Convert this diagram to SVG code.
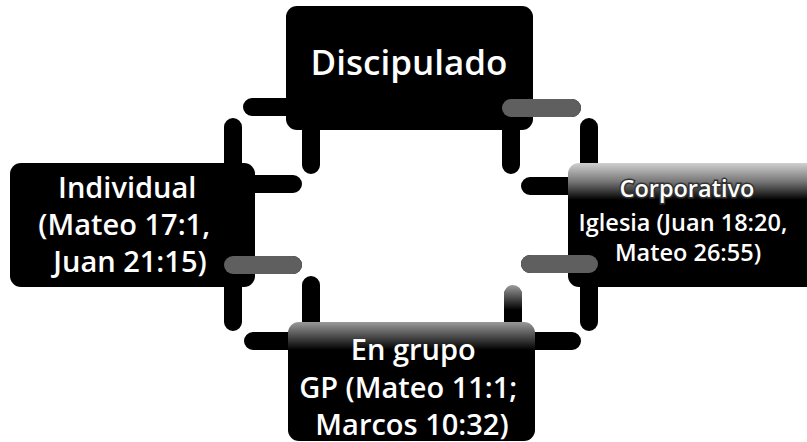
<svg xmlns="http://www.w3.org/2000/svg" width="807" height="442" viewBox="0 0 807 442">
  <defs>
    <linearGradient id="gRight" gradientUnits="userSpaceOnUse" x1="0" y1="163" x2="0" y2="200">
      <stop offset="0" stop-color="#d0d0d0"/>
      <stop offset="0.5" stop-color="#777"/>
      <stop offset="1" stop-color="#000"/>
    </linearGradient>
    <linearGradient id="gBottom" gradientUnits="userSpaceOnUse" x1="0" y1="322" x2="0" y2="350">
      <stop offset="0" stop-color="#9a9a9a"/>
      <stop offset="1" stop-color="#000"/>
    </linearGradient>
    <linearGradient id="gVert" gradientUnits="userSpaceOnUse" x1="0" y1="280" x2="0" y2="310">
      <stop offset="0" stop-color="#bbb"/>
      <stop offset="1" stop-color="#000"/>
    </linearGradient>
  </defs>
  <style>
    .box { fill: #000; }
    .arm { fill: none; stroke: #000; stroke-width: 18; stroke-linecap: round; stroke-linejoin: round; }
    .grey { fill: none; stroke: #5f5f5f; stroke-width: 18; stroke-linecap: round; }
    .t { font-family: "Open Sans", "Liberation Sans", sans-serif; font-weight: 600; fill: #fff; text-anchor: middle; }
  </style>

  <g id="connectors">
    <path class="arm" d="M252,107 H311 V165"/>
    <path class="arm" d="M572,108 H511 V165"/>
    <path class="arm" d="M233,127 V184 H293"/>
    <path class="arm" d="M293,265 H233 V322"/>
    <path class="arm" d="M589,127 V186 H530"/>
    <path class="arm" d="M530,264 H589 V322"/>
    <path class="arm" d="M311,285 V341 H253"/>
    <path class="arm" d="M513,295 V341 H572"/>
  </g>

  <g id="node-discipulado">
    <rect class="box" x="286" y="6" width="247" height="124" rx="11"/>
    <text class="t" x="409" y="75" font-size="35">Discipulado</text>
  </g>

  <g id="node-individual">
    <rect class="box" x="10" y="163" width="245" height="124" rx="11"/>
    <text class="t" font-size="29">
      <tspan x="131" y="198">Individual</tspan>
      <tspan x="128" y="235">(Mateo 17:1,</tspan>
      <tspan x="130" y="272">Juan 21:15)</tspan>
    </text>
  </g>

  <g id="node-corporativo">
    <rect x="568" y="163" width="250" height="124" rx="11" fill="url(#gRight)"/>
    <text class="t" font-size="23.5">
      <tspan x="690" y="197" stroke="#333" stroke-width="3" paint-order="stroke">Corporativo</tspan>
      <tspan x="686" y="231">Iglesia (Juan 18:20,</tspan>
      <tspan x="688" y="261">Mateo 26:55)</tspan>
    </text>
  </g>

  <g id="node-engrupo">
    <rect x="288" y="322" width="247" height="119" rx="11" fill="url(#gBottom)"/>
    <text class="t" font-size="29">
      <tspan x="417" y="360">En grupo</tspan>
      <tspan x="412" y="398">GP (Mateo 11:1;</tspan>
      <tspan x="412" y="435">Marcos 10:32)</tspan>
    </text>
  </g>

  <g id="grey-arms">
    <path class="grey" d="M572,108 H511"/>
    <path class="grey" d="M293,265 H233"/>
    <path class="grey" d="M530,264 H589"/>
    <path fill="none" stroke="url(#gVert)" stroke-width="18" stroke-linecap="round" d="M513,294 V312"/>
  </g>
</svg>
